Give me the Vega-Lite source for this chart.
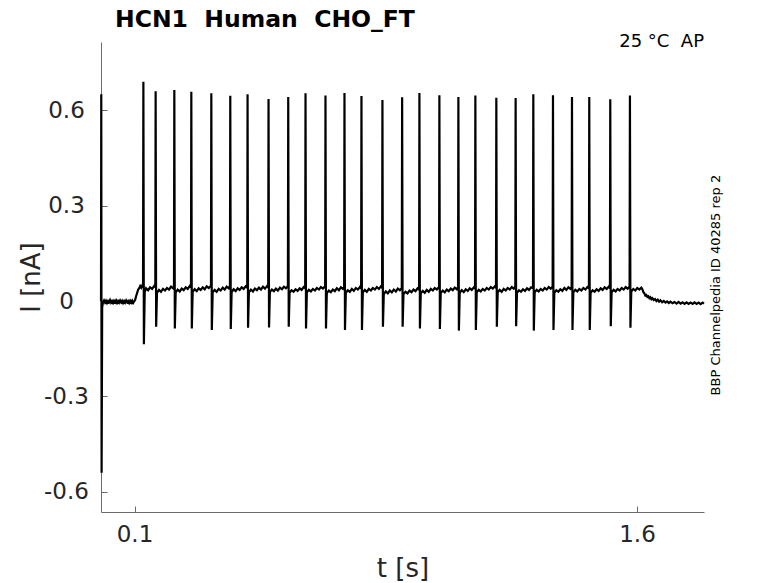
{
  "$schema": "https://vega.github.io/schema/vega-lite/v6.json",
  "width": 603,
  "height": 470,
  "autosize": "none",
  "padding": {"left": 101, "top": 42, "right": 74, "bottom": 71},
  "background": "white",
  "config": {
    "view": {"stroke": null},
    "font": "DejaVu Sans",
    "axis": {
      "grid": false,
      "domainColor": "#6b6b6b",
      "tickColor": "#6b6b6b",
      "domainWidth": 1,
      "tickWidth": 1,
      "tickSize": -6,
      "labelColor": "#262626",
      "titleColor": "#262626",
      "labelFont": "DejaVu Sans",
      "titleFont": "DejaVu Sans",
      "labelFontSize": 23,
      "titleFontSize": 26,
      "titleFontWeight": "normal"
    }
  },
  "layer": [
    {
      "data": {
        "values": [
          {"t": 0.0, "i": 0.0}, {"t": 0.0008, "i": 0.65}, {"t": 0.0018, "i": -0.54}, {"t": 0.0035, "i": -0.02},
          {"t": 0.006, "i": -0.004}, {"t": 0.009, "i": 0.002}, {"t": 0.012, "i": -0.005}, {"t": 0.015, "i": 0.001},
          {"t": 0.018, "i": -0.006}, {"t": 0.021, "i": 0.0}, {"t": 0.024, "i": -0.004}, {"t": 0.027, "i": 0.003},
          {"t": 0.03, "i": -0.005}, {"t": 0.033, "i": 0.0}, {"t": 0.036, "i": -0.006}, {"t": 0.039, "i": 0.001},
          {"t": 0.042, "i": -0.004}, {"t": 0.045, "i": 0.002}, {"t": 0.048, "i": -0.006}, {"t": 0.051, "i": 0.0},
          {"t": 0.054, "i": -0.005}, {"t": 0.057, "i": 0.002}, {"t": 0.06, "i": -0.004}, {"t": 0.063, "i": 0.001},
          {"t": 0.066, "i": -0.006}, {"t": 0.069, "i": 0.0}, {"t": 0.072, "i": -0.005}, {"t": 0.075, "i": 0.002},
          {"t": 0.078, "i": -0.004}, {"t": 0.081, "i": 0.0}, {"t": 0.084, "i": -0.006}, {"t": 0.087, "i": 0.001},
          {"t": 0.09, "i": -0.005}, {"t": 0.093, "i": 0.001}, {"t": 0.096, "i": -0.006}, {"t": 0.099, "i": -0.001},
          {"t": 0.102, "i": 0.004}, {"t": 0.105, "i": 0.016}, {"t": 0.108, "i": 0.026}, {"t": 0.111, "i": 0.036},
          {"t": 0.114, "i": 0.04}, {"t": 0.117, "i": 0.047}, {"t": 0.12, "i": 0.042}, {"t": 0.123, "i": 0.049},
          {"t": 0.1255, "i": 0.045},
          {"t": 0.1265, "i": 0.689}, {"t": 0.128, "i": -0.136}, {"t": 0.1305, "i": 0.028},
          {"t": 0.1345, "i": 0.04}, {"t": 0.1405, "i": 0.034}, {"t": 0.1465, "i": 0.043}, {"t": 0.1525, "i": 0.038}, {"t": 0.1585, "i": 0.047}, {"t": 0.1621, "i": 0.044},
          {"t": 0.1631, "i": 0.659}, {"t": 0.1646, "i": -0.081}, {"t": 0.1671, "i": 0.026},
          {"t": 0.1731, "i": 0.035}, {"t": 0.1791, "i": 0.029}, {"t": 0.1851, "i": 0.038}, {"t": 0.1911, "i": 0.033}, {"t": 0.1971, "i": 0.041}, {"t": 0.2031, "i": 0.036}, {"t": 0.2091, "i": 0.045}, {"t": 0.2151, "i": 0.04}, {"t": 0.2179, "i": 0.048},
          {"t": 0.2189, "i": 0.663}, {"t": 0.2204, "i": -0.086}, {"t": 0.2229, "i": 0.027},
          {"t": 0.2289, "i": 0.036}, {"t": 0.2349, "i": 0.03}, {"t": 0.2409, "i": 0.039}, {"t": 0.2469, "i": 0.034}, {"t": 0.2529, "i": 0.043}, {"t": 0.2589, "i": 0.038}, {"t": 0.2649, "i": 0.047}, {"t": 0.2686, "i": 0.043},
          {"t": 0.2696, "i": 0.658}, {"t": 0.2711, "i": -0.086}, {"t": 0.2736, "i": 0.029},
          {"t": 0.2796, "i": 0.037}, {"t": 0.2856, "i": 0.031}, {"t": 0.2916, "i": 0.04}, {"t": 0.2976, "i": 0.035}, {"t": 0.3036, "i": 0.043}, {"t": 0.3096, "i": 0.037}, {"t": 0.3156, "i": 0.046}, {"t": 0.3216, "i": 0.041}, {"t": 0.3283, "i": 0.048},
          {"t": 0.3293, "i": 0.653}, {"t": 0.3308, "i": -0.091}, {"t": 0.3333, "i": 0.027},
          {"t": 0.3393, "i": 0.035}, {"t": 0.3453, "i": 0.029}, {"t": 0.3513, "i": 0.038}, {"t": 0.3573, "i": 0.033}, {"t": 0.3633, "i": 0.042}, {"t": 0.3693, "i": 0.036}, {"t": 0.3753, "i": 0.045}, {"t": 0.3813, "i": 0.04}, {"t": 0.3849, "i": 0.047},
          {"t": 0.3859, "i": 0.645}, {"t": 0.3874, "i": -0.088}, {"t": 0.3899, "i": 0.028},
          {"t": 0.3959, "i": 0.037}, {"t": 0.4019, "i": 0.031}, {"t": 0.4079, "i": 0.04}, {"t": 0.4139, "i": 0.035}, {"t": 0.4199, "i": 0.043}, {"t": 0.4259, "i": 0.038}, {"t": 0.4319, "i": 0.046}, {"t": 0.4365, "i": 0.042},
          {"t": 0.4375, "i": 0.65}, {"t": 0.439, "i": -0.084}, {"t": 0.4415, "i": 0.027},
          {"t": 0.4475, "i": 0.036}, {"t": 0.4535, "i": 0.03}, {"t": 0.4595, "i": 0.039}, {"t": 0.4655, "i": 0.034}, {"t": 0.4715, "i": 0.042}, {"t": 0.4775, "i": 0.036}, {"t": 0.4835, "i": 0.045}, {"t": 0.4895, "i": 0.039}, {"t": 0.4955, "i": 0.047}, {"t": 0.4991, "i": 0.043},
          {"t": 0.5001, "i": 0.635}, {"t": 0.5016, "i": -0.083}, {"t": 0.5041, "i": 0.028},
          {"t": 0.5101, "i": 0.036}, {"t": 0.5161, "i": 0.031}, {"t": 0.5221, "i": 0.039}, {"t": 0.5281, "i": 0.033}, {"t": 0.5341, "i": 0.042}, {"t": 0.5401, "i": 0.037}, {"t": 0.5461, "i": 0.045}, {"t": 0.5521, "i": 0.04}, {"t": 0.5579, "i": 0.047},
          {"t": 0.5589, "i": 0.641}, {"t": 0.5604, "i": -0.081}, {"t": 0.5629, "i": 0.026},
          {"t": 0.5689, "i": 0.034}, {"t": 0.5749, "i": 0.029}, {"t": 0.5809, "i": 0.037}, {"t": 0.5869, "i": 0.032}, {"t": 0.5929, "i": 0.04}, {"t": 0.5989, "i": 0.035}, {"t": 0.6049, "i": 0.044}, {"t": 0.6095, "i": 0.04},
          {"t": 0.6105, "i": 0.653}, {"t": 0.612, "i": -0.086}, {"t": 0.6145, "i": 0.027},
          {"t": 0.6205, "i": 0.035}, {"t": 0.6265, "i": 0.03}, {"t": 0.6325, "i": 0.038}, {"t": 0.6385, "i": 0.033}, {"t": 0.6445, "i": 0.041}, {"t": 0.6505, "i": 0.036}, {"t": 0.6565, "i": 0.044}, {"t": 0.6625, "i": 0.039}, {"t": 0.6691, "i": 0.046},
          {"t": 0.6701, "i": 0.646}, {"t": 0.6716, "i": -0.086}, {"t": 0.6741, "i": 0.025},
          {"t": 0.6801, "i": 0.033}, {"t": 0.6861, "i": 0.028}, {"t": 0.6921, "i": 0.036}, {"t": 0.6981, "i": 0.031}, {"t": 0.7041, "i": 0.04}, {"t": 0.7101, "i": 0.034}, {"t": 0.7161, "i": 0.043}, {"t": 0.7221, "i": 0.038}, {"t": 0.7258, "i": 0.045},
          {"t": 0.7268, "i": 0.654}, {"t": 0.7283, "i": -0.091}, {"t": 0.7308, "i": 0.026},
          {"t": 0.7368, "i": 0.034}, {"t": 0.7428, "i": 0.029}, {"t": 0.7488, "i": 0.038}, {"t": 0.7548, "i": 0.032}, {"t": 0.7608, "i": 0.041}, {"t": 0.7668, "i": 0.036}, {"t": 0.7728, "i": 0.044}, {"t": 0.7765, "i": 0.04},
          {"t": 0.7775, "i": 0.644}, {"t": 0.779, "i": -0.091}, {"t": 0.7815, "i": 0.027},
          {"t": 0.7875, "i": 0.035}, {"t": 0.7935, "i": 0.029}, {"t": 0.7995, "i": 0.038}, {"t": 0.8055, "i": 0.033}, {"t": 0.8115, "i": 0.041}, {"t": 0.8175, "i": 0.036}, {"t": 0.8235, "i": 0.044}, {"t": 0.8295, "i": 0.038}, {"t": 0.8355, "i": 0.046}, {"t": 0.8391, "i": 0.042},
          {"t": 0.8401, "i": 0.632}, {"t": 0.8416, "i": -0.081}, {"t": 0.8441, "i": 0.022},
          {"t": 0.8501, "i": 0.03}, {"t": 0.8561, "i": 0.024}, {"t": 0.8621, "i": 0.033}, {"t": 0.8681, "i": 0.027}, {"t": 0.8741, "i": 0.036}, {"t": 0.8801, "i": 0.03}, {"t": 0.8861, "i": 0.039}, {"t": 0.8921, "i": 0.034}, {"t": 0.8979, "i": 0.041},
          {"t": 0.8989, "i": 0.64}, {"t": 0.9004, "i": -0.081}, {"t": 0.9029, "i": 0.022},
          {"t": 0.9089, "i": 0.029}, {"t": 0.9149, "i": 0.024}, {"t": 0.9209, "i": 0.033}, {"t": 0.9269, "i": 0.028}, {"t": 0.9329, "i": 0.036}, {"t": 0.9389, "i": 0.031}, {"t": 0.9449, "i": 0.04}, {"t": 0.9495, "i": 0.036},
          {"t": 0.9505, "i": 0.654}, {"t": 0.952, "i": -0.086}, {"t": 0.9545, "i": 0.024},
          {"t": 0.9605, "i": 0.032}, {"t": 0.9665, "i": 0.026}, {"t": 0.9725, "i": 0.035}, {"t": 0.9785, "i": 0.029}, {"t": 0.9845, "i": 0.038}, {"t": 0.9905, "i": 0.033}, {"t": 0.9965, "i": 0.041}, {"t": 1.0025, "i": 0.036}, {"t": 1.0091, "i": 0.044},
          {"t": 1.0101, "i": 0.647}, {"t": 1.0116, "i": -0.088}, {"t": 1.0141, "i": 0.025},
          {"t": 1.0201, "i": 0.033}, {"t": 1.0261, "i": 0.027}, {"t": 1.0321, "i": 0.036}, {"t": 1.0381, "i": 0.031}, {"t": 1.0441, "i": 0.039}, {"t": 1.0501, "i": 0.034}, {"t": 1.0561, "i": 0.042}, {"t": 1.0621, "i": 0.037}, {"t": 1.0658, "i": 0.044},
          {"t": 1.0668, "i": 0.641}, {"t": 1.0683, "i": -0.093}, {"t": 1.0708, "i": 0.026},
          {"t": 1.0768, "i": 0.034}, {"t": 1.0828, "i": 0.028}, {"t": 1.0888, "i": 0.037}, {"t": 1.0948, "i": 0.032}, {"t": 1.1008, "i": 0.04}, {"t": 1.1068, "i": 0.035}, {"t": 1.1128, "i": 0.043}, {"t": 1.1165, "i": 0.039},
          {"t": 1.1175, "i": 0.646}, {"t": 1.119, "i": -0.091}, {"t": 1.1215, "i": 0.027},
          {"t": 1.1275, "i": 0.035}, {"t": 1.1335, "i": 0.03}, {"t": 1.1395, "i": 0.038}, {"t": 1.1455, "i": 0.033}, {"t": 1.1515, "i": 0.041}, {"t": 1.1575, "i": 0.036}, {"t": 1.1635, "i": 0.044}, {"t": 1.1695, "i": 0.039}, {"t": 1.1755, "i": 0.046}, {"t": 1.1791, "i": 0.042},
          {"t": 1.1801, "i": 0.639}, {"t": 1.1816, "i": -0.081}, {"t": 1.1841, "i": 0.027},
          {"t": 1.1901, "i": 0.035}, {"t": 1.1961, "i": 0.029}, {"t": 1.2021, "i": 0.038}, {"t": 1.2081, "i": 0.033}, {"t": 1.2141, "i": 0.041}, {"t": 1.2201, "i": 0.036}, {"t": 1.2261, "i": 0.044}, {"t": 1.2321, "i": 0.039}, {"t": 1.2367, "i": 0.046},
          {"t": 1.2377, "i": 0.638}, {"t": 1.2392, "i": -0.079}, {"t": 1.2417, "i": 0.026},
          {"t": 1.2477, "i": 0.034}, {"t": 1.2537, "i": 0.029}, {"t": 1.2597, "i": 0.037}, {"t": 1.2657, "i": 0.032}, {"t": 1.2717, "i": 0.04}, {"t": 1.2777, "i": 0.035}, {"t": 1.2837, "i": 0.043}, {"t": 1.2895, "i": 0.04},
          {"t": 1.2905, "i": 0.65}, {"t": 1.292, "i": -0.093}, {"t": 1.2945, "i": 0.027},
          {"t": 1.3005, "i": 0.035}, {"t": 1.3065, "i": 0.03}, {"t": 1.3125, "i": 0.038}, {"t": 1.3185, "i": 0.033}, {"t": 1.3245, "i": 0.041}, {"t": 1.3305, "i": 0.036}, {"t": 1.3365, "i": 0.044}, {"t": 1.3425, "i": 0.039}, {"t": 1.3482, "i": 0.046},
          {"t": 1.3492, "i": 0.647}, {"t": 1.3507, "i": -0.091}, {"t": 1.3532, "i": 0.026},
          {"t": 1.3592, "i": 0.034}, {"t": 1.3652, "i": 0.029}, {"t": 1.3712, "i": 0.037}, {"t": 1.3772, "i": 0.032}, {"t": 1.3832, "i": 0.041}, {"t": 1.3892, "i": 0.035}, {"t": 1.3952, "i": 0.043}, {"t": 1.4012, "i": 0.038}, {"t": 1.4049, "i": 0.045},
          {"t": 1.4059, "i": 0.641}, {"t": 1.4074, "i": -0.091}, {"t": 1.4099, "i": 0.027},
          {"t": 1.4159, "i": 0.035}, {"t": 1.4219, "i": 0.03}, {"t": 1.4279, "i": 0.038}, {"t": 1.4339, "i": 0.033}, {"t": 1.4399, "i": 0.041}, {"t": 1.4459, "i": 0.036}, {"t": 1.4519, "i": 0.044}, {"t": 1.4565, "i": 0.04},
          {"t": 1.4575, "i": 0.641}, {"t": 1.459, "i": -0.091}, {"t": 1.4615, "i": 0.026},
          {"t": 1.4675, "i": 0.034}, {"t": 1.4735, "i": 0.029}, {"t": 1.4795, "i": 0.037}, {"t": 1.4855, "i": 0.032}, {"t": 1.4915, "i": 0.04}, {"t": 1.4975, "i": 0.035}, {"t": 1.5035, "i": 0.043}, {"t": 1.5095, "i": 0.038}, {"t": 1.5155, "i": 0.045}, {"t": 1.5192, "i": 0.041},
          {"t": 1.5202, "i": 0.634}, {"t": 1.5217, "i": -0.079}, {"t": 1.5242, "i": 0.027},
          {"t": 1.5302, "i": 0.035}, {"t": 1.5362, "i": 0.03}, {"t": 1.5422, "i": 0.038}, {"t": 1.5482, "i": 0.033}, {"t": 1.5542, "i": 0.041}, {"t": 1.5602, "i": 0.036}, {"t": 1.5662, "i": 0.044}, {"t": 1.5722, "i": 0.039}, {"t": 1.5779, "i": 0.046},
          {"t": 1.5789, "i": 0.646}, {"t": 1.5804, "i": -0.084}, {"t": 1.5829, "i": 0.03},
          {"t": 1.5889, "i": 0.038}, {"t": 1.5949, "i": 0.033}, {"t": 1.6009, "i": 0.041}, {"t": 1.6069, "i": 0.036}, {"t": 1.6129, "i": 0.042}, {"t": 1.616, "i": 0.037},
          {"t": 1.619, "i": 0.028}, {"t": 1.622, "i": 0.024}, {"t": 1.625, "i": 0.017}, {"t": 1.628, "i": 0.019}, {"t": 1.631, "i": 0.013}, {"t": 1.634, "i": 0.015},
          {"t": 1.637, "i": 0.009}, {"t": 1.64, "i": 0.012}, {"t": 1.643, "i": 0.006}, {"t": 1.646, "i": 0.009}, {"t": 1.65, "i": 0.003}, {"t": 1.654, "i": 0.006},
          {"t": 1.658, "i": 0.0}, {"t": 1.662, "i": 0.004}, {"t": 1.666, "i": -0.002}, {"t": 1.67, "i": 0.002}, {"t": 1.675, "i": -0.004}, {"t": 1.68, "i": 0.0},
          {"t": 1.685, "i": -0.005}, {"t": 1.69, "i": -0.001}, {"t": 1.695, "i": -0.006}, {"t": 1.7, "i": -0.002}, {"t": 1.706, "i": -0.007}, {"t": 1.712, "i": -0.003},
          {"t": 1.718, "i": -0.008}, {"t": 1.724, "i": -0.003}, {"t": 1.73, "i": -0.008}, {"t": 1.736, "i": -0.004}, {"t": 1.742, "i": -0.009}, {"t": 1.748, "i": -0.004},
          {"t": 1.754, "i": -0.009}, {"t": 1.76, "i": -0.005}, {"t": 1.766, "i": -0.009}, {"t": 1.772, "i": -0.004}, {"t": 1.778, "i": -0.009}, {"t": 1.784, "i": -0.005},
          {"t": 1.79, "i": -0.01}, {"t": 1.796, "i": -0.005}, {"t": 1.8, "i": -0.008}
        ]
      },
      "mark": {"type": "line", "color": "#000000", "strokeWidth": 2.2, "interpolate": "linear"},
      "encoding": {
        "x": {
          "field": "t", "type": "quantitative",
          "scale": {"domain": [0, 1.8], "nice": false, "zero": false},
          "axis": {"values": [0.1, 1.6], "title": "t [s]", "labelPadding": 17, "titlePadding": 9, "labelFlush": false}
        },
        "y": {
          "field": "i", "type": "quantitative",
          "scale": {"domain": [-0.663, 0.814], "nice": false, "zero": false},
          "axis": {
            "values": [-0.6, -0.3, 0, 0.3, 0.6],
            "labelExpr": "datum.value == 0 ? '0' : (datum.value < 0 ? '-' + format(-datum.value, '.1f') : format(datum.value, '.1f'))",
            "labelAlign": "center",
            "labelPadding": 41,
            "labelFlush": false,
            "title": "I [nA]",
            "titleX": -70,
            "titleY": 235,
            "titleBaseline": "middle"
          }
        },
        "order": {"field": "t", "type": "quantitative"}
      }
    },
    {
      "data": {"values": [{}]},
      "mark": {"type": "text", "text": "HCN1\u00a0 Human\u00a0 CHO_FT", "align": "left", "baseline": "alphabetic", "dx": 14, "dy": -15, "fontSize": 23.5, "fontWeight": "bold", "color": "#000000", "font": "DejaVu Sans"},
      "encoding": {
        "x": {"datum": 0, "type": "quantitative"},
        "y": {"datum": 0.814, "type": "quantitative"}
      }
    },
    {
      "data": {"values": [{}]},
      "mark": {"type": "text", "text": "25 °C\u00a0 AP", "align": "right", "baseline": "alphabetic", "dy": 5, "fontSize": 18, "color": "#000000", "font": "DejaVu Sans"},
      "encoding": {
        "x": {"datum": 1.8, "type": "quantitative"},
        "y": {"datum": 0.814, "type": "quantitative"}
      }
    },
    {
      "data": {"values": [{}]},
      "mark": {"type": "text", "text": "BBP Channelpedia ID 40285 rep 2", "align": "center", "baseline": "middle", "angle": 270, "dx": 0, "dy": 12, "fontSize": 13, "color": "#000000", "font": "DejaVu Sans"},
      "encoding": {
        "x": {"datum": 1.8, "type": "quantitative"},
        "y": {"datum": 0.05, "type": "quantitative"}
      }
    }
  ]
}
